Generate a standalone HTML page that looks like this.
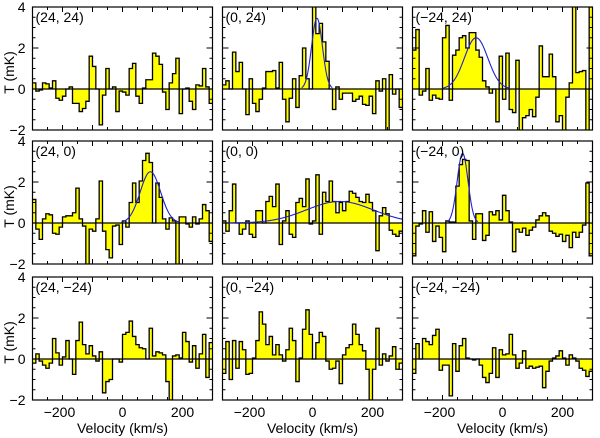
<!DOCTYPE html>
<html><head><meta charset="utf-8"><style>
html,body{margin:0;padding:0;background:#fff;}
svg{display:block;font-family:"Liberation Sans",sans-serif;}
</style></head><body>
<svg id="chart" width="600" height="438" viewBox="0 0 600 438" xmlns="http://www.w3.org/2000/svg"></svg>
<script>
// ---- data ----
const panelLabels = ["(24, 24)","(0, 24)","(\u221224, 24)","(24, 0)","(0, 0)","(\u221224, 0)","(24, \u221224)","(0, \u221224)","(\u221224, \u221224)"];
const p1 = [0.3,-0.1,-0.05,0.3,0.25,0.05,0.4,-0.45,-0.55,-0.35,0,0.1,-0.7,-0.7,-1.1,-0.95,-0.6,1.6,1.1,0,-1.75,-0.3,1.0,0,0.1,-1.1,-0.1,-0.15,-0.3,1.0,1.25,-0.35,-0.7,0.05,0.45,0.45,1.75,1.6,1.2,-0.15,-1.0,0.3,0.75,1.5,-1.2,0,0.05,-0.6,-1.0,0.2,0.15,1.0,0.1,-0.7];
const p2 = [0.2,0.4,0,1.8,0.85,1.3,0,-1.25,0.5,-0.7,-1.1,-0.5,0.05,0.85,0.85,0.9,0.05,1.3,-0.5,-1.6,-0.45,0.5,-0.9,0.65,2.0,0.5,0,4.4,2.7,3.2,2.3,1.35,0,-1.0,0.1,-0.5,-0.2,-0.2,-0.2,-0.6,-0.5,-0.35,-0.75,-0.8,-0.35,-1.2,0.4,-0.1,0.5,-2.4,0.7,-0.25,0,-0.9];
const p3 = [1.9,2.9,-0.3,-0.1,1.0,-0.55,-0.3,-0.45,-0.5,2.5,3.1,-0.55,1.65,1.9,2.5,2.6,2.0,2.75,2.75,1.9,1.55,0.4,0.1,-0.2,0,-1.6,1.6,-0.5,1.75,-1.0,-1.15,1.4,-2.2,-1.4,-1.3,-1.0,-1.35,-0.4,2.1,0.6,0.6,1.7,0.6,-1.6,-1.3,-2.2,-0.4,0.3,4.4,0.8,0.85,0.9,-2.2,4.0];
const p4 = [1.15,-0.3,-0.8,0.2,0.45,0.4,-0.5,-0.55,-0.2,0.3,0.35,0.35,0.5,1.7,0.2,-0.15,-2.2,-0.3,-0.4,0.2,2.05,-0.4,-1.3,-1.7,-0.15,-0.1,-1.05,0.1,-0.2,1.0,1.95,1.0,2.05,3.05,3.4,2.95,0,1.95,1.25,0.2,-0.3,0.25,0.1,-2.2,0.3,0.3,-0.05,-0.2,0.3,-0.05,0.2,0.9,0.6,-0.9];
const p5 = [0.1,-0.4,0.6,1.9,0,-0.55,-0.3,0.1,-0.55,-0.7,0.6,0.6,0,1.05,1.3,0.8,1.9,-1.05,0.1,0.6,-0.55,-0.7,1.0,1.2,0.8,2.15,-0.05,0.1,2.35,-0.55,1.5,1.05,2.05,1.05,0.5,1.0,0.6,1.05,1.55,1.45,1.25,1.05,1.0,1.4,1.0,0.6,-1.35,0.35,0.75,0.45,-0.35,-0.55,-0.65,-0.4];
const p6 = [-1.6,-0.15,-0.05,0.6,-0.45,0.55,-0.9,-0.15,-0.7,-1.4,0.1,0.05,0.05,1.8,2.85,3.1,3.05,0.1,-0.8,0.45,0.45,-0.85,-0.6,0.55,0.4,0.6,0.15,1.35,0.6,0.05,-1.4,-0.3,-0.45,-0.25,-0.6,-0.35,-0.2,0.15,0.35,0.5,0.35,-0.4,-0.5,-0.65,-0.55,-0.9,-0.6,-1.2,-0.45,-0.7,-0.45,-0.1,1.95,-1.6];
const p7 = [-0.2,0.25,-0.1,-0.3,-0.45,-0.2,1.0,0.3,-0.3,0.1,0.9,0,-0.75,0.9,1.8,0.7,0.25,0.65,0.15,-0.1,0.35,-1.65,-1.1,-1.0,0,0,-0.15,1.2,1.3,1.85,1.1,0.7,0.55,0.5,0,1.5,0.15,0.35,0.3,0.2,-1.1,-2.0,0.15,0.2,0.05,1.3,0.85,-0.15,0.65,-0.45,0.25,1.2,-0.9,0.8];
const p8 = [-0.7,0.85,-1.0,0.9,-0.45,0.85,0.45,-0.75,-0.7,0.05,0.9,2.3,1.7,0.7,1.1,0.2,0.7,0.2,-0.1,0.45,1.5,0.9,-1.1,0.05,1.45,2.4,1.2,0,0.8,1.3,1.1,-0.1,-0.5,-0.45,-0.1,-1.2,0.2,0.55,0.7,1.7,1.2,0.7,0.4,-0.5,-2.0,-0.5,1.5,-0.3,0.25,-0.1,0.15,0.6,-0.5,-0.2];
const p9 = [-0.7,0.75,0,1.0,0.85,0.7,1.15,1.45,-0.55,-0.3,-0.3,-1.8,0.75,-0.6,0.65,1.0,0.05,0,-0.05,0,-0.3,-0.9,-1.15,-0.7,0.55,-0.9,0.45,0.2,0.25,1.2,0.2,-0.45,-0.2,0.4,-0.45,-0.35,-0.45,-0.4,-0.35,-1.4,-0.6,-0.1,0.05,0.15,0.4,0.05,-0.3,0.2,0.05,-0.1,-0.45,-0.55,-0.85,-0.6];
const panelData = [p1,p2,p3,p4,p5,p6,p7,p8,p9];
// gaussian fits: [amplitude mK, centre km/s, sigma km/s] (null = none)
const fitAmp = [null,3.45,2.5,2.5,1.05,3.4,null,null,null];
const fitCen = [null,15,-88,93,91,-133,null,null,null];
const fitSig = [null,18,39,34,112,18,null,null,null];
const yTicks = [4,2,0,-2];
const xTicks = [-200,0,200];

// ---- layout ----
const NS = "http://www.w3.org/2000/svg";
const svg = document.getElementById('chart');
const colX = [32.5,222.5,412.5], rowY = [7,141,277];
const PW = 180, PH = 123, VMIN=-300, VMAX=300, TMIN=-2, TMAX=4;
function mk(tag, attrs, parent){const e=document.createElementNS(NS,tag);for(const k in attrs)e.setAttribute(k,attrs[k]);(parent||svg).appendChild(e);return e;}

const defs = mk('defs',{});
panelData.forEach((data, idx) => {
  const c = idx%3, r = Math.floor(idx/3);
  const x0 = colX[c], y0 = rowY[r];
  const xs = v => x0 + (v-VMIN)/(VMAX-VMIN)*PW;
  const ys = t => y0 + (TMAX-t)/(TMAX-TMIN)*PH;
  const clip = mk('clipPath',{id:'clip'+idx},defs);
  mk('rect',{x:x0,y:y0,width:PW,height:PH},clip);
  const g = mk('g',{'clip-path':'url(#clip'+idx+')'});
  
  
  const n = data.length, dv = (VMAX-VMIN)/n;
  // fill
  let fill = 'M'+xs(VMIN)+','+ys(0);
  let line = '';
  data.forEach((t,i)=>{
    const a = xs(VMIN+i*dv), b = xs(VMIN+(i+1)*dv);
    fill += ' L'+a+','+ys(t)+' L'+b+','+ys(t);
    line += (i===0?'M':' L')+a+','+ys(t)+' L'+b+','+ys(t);
  });
  fill += ' L'+xs(VMAX)+','+ys(0)+' Z';
  const fp = mk('path',{d:fill,fill:'#ffff00',stroke:'none'},g);
  
  
  const zl = mk('line',{x1:x0,x2:x0+PW,y1:ys(0),y2:ys(0),stroke:'#000','stroke-width':1.3},g);
  
  
  const lp = mk('path',{d:line,fill:'none',stroke:'#000','stroke-width':1.3},g);
  
  
  if (fitAmp[idx] !== null) {
    const A=fitAmp[idx], C=fitCen[idx], S=fitSig[idx];
    let d='';
    for(let v=VMIN; v<=VMAX; v+=2){
      const t = A*Math.exp(-(v-C)*(v-C)/(2*S*S));
      if (t < 0.015*A && S < 60) continue;
      d += (d===''?'M':' L')+xs(v).toFixed(2)+','+ys(t).toFixed(2);
    }
    const gp = mk('path',{d:d,fill:'none',stroke:'#2020d0','stroke-width':1.1},g);
    
    
  }
  // frame
  const fr = mk('rect',{x:x0,y:y0,width:PW,height:PH,fill:'none',stroke:'#000','stroke-width':1.2});
  
  
  // ticks
  let td='';
  for(let t=TMIN; t<=TMAX+1e-6; t+=0.5){
    const L = (Math.abs(t%2)<1e-6)?6:3;
    const y = ys(t);
    td += 'M'+x0+','+y+' h'+L+' M'+(x0+PW)+','+y+' h'+(-L)+' ';
  }
  for(let v=VMIN; v<=VMAX; v+=50){
    const L = (v%100===0)?5:3;
    const x = xs(v);
    td += 'M'+x+','+(y0+PH)+' v'+(-L)+' M'+x+','+y0+' v'+L+' ';
  }
  const tk = mk('path',{d:td,stroke:'#000','stroke-width':1,fill:'none'});
  
  
  // label
  const lb = mk('text',{x:x0+3,y:y0+15,'font-size':14,fill:'#000'});
  lb.textContent = panelLabels[idx];
  
  
  // y labels for left column
  if (c===0){
    yTicks.forEach(t=>{
      const tl = mk('text',{x:x0-7,y:ys(t)+5,'font-size':14,'text-anchor':'end',fill:'#000'});
      tl.textContent = t<0 ? '\u2212'+Math.abs(t) : String(t);
      
      
    });
    const yt = mk('text',{x:0,y:0,'font-size':14,'text-anchor':'middle',fill:'#000',transform:'translate(14,'+(y0+PH/2+4)+') rotate(-90)'});
    yt.textContent='T (mK)';
    
    
  }
  if (r===2){
    xTicks.forEach(v=>{
      const xl = mk('text',{x:xs(v)-(v<0?3:0),y:y0+PH+17,'font-size':14,'text-anchor':'middle',fill:'#000'});
      xl.textContent = v<0 ? '\u2212'+Math.abs(v) : String(v);
      
      
    });
    const xt = mk('text',{x:x0+PW/2,y:y0+PH+33,'font-size':14,'text-anchor':'middle',fill:'#000'});
    xt.textContent='Velocity (km/s)';
    
    
  }
});
</script>
</body></html>
